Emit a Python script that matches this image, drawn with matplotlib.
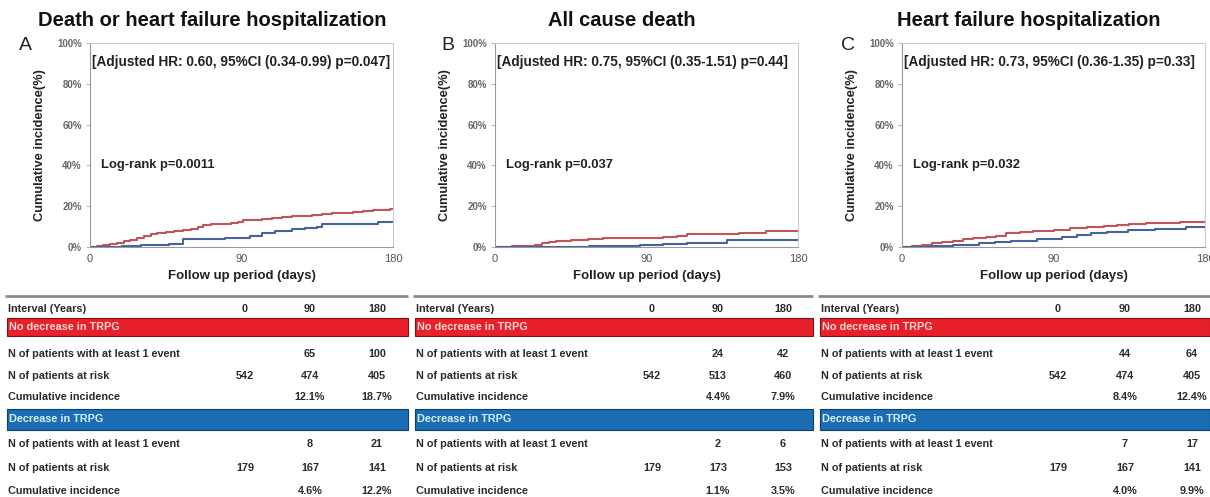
import matplotlib
matplotlib.use("Agg")
import matplotlib.pyplot as plt
from matplotlib.patches import Rectangle

plt.rcParams['font.family'] = ['Liberation Sans', 'DejaVu Sans']

W, H = 1210, 497

# ---------------- data ----------------
panel_letters = ["A", "B", "C"]
panel_titles = ["Death or heart failure hospitalization", "All cause death", "Heart failure hospitalization"]
hr_texts = ["[Adjusted HR: 0.60, 95%CI (0.34-0.99) p=0.047]",
            "[Adjusted HR: 0.75, 95%CI (0.35-1.51) p=0.44]",
            "[Adjusted HR: 0.73, 95%CI (0.36-1.35) p=0.33]"]
logrank_texts = ["Log-rank p=0.0011", "Log-rank p=0.037", "Log-rank p=0.032"]
x_ticks = [0, 90, 180]
y_ticks = [0, 20, 40, 60, 80, 100]
y_tick_labels = ["0%", "20%", "40%", "60%", "80%", "100%"]

# step curves (days, cumulative incidence %)
a_red_t = [0, 4, 8, 12, 16, 20, 24, 28, 32, 36, 40, 45, 50, 55, 60, 64, 67, 72, 78, 84, 88, 91, 96, 102, 108, 114, 120, 126, 132, 138, 144, 150, 156, 162, 168, 174, 178, 180]
a_red_v = [0, 0.6, 1.2, 1.7, 2.2, 2.8, 3.6, 4.5, 5.4, 6.2, 7.0, 7.5, 7.9, 8.3, 8.7, 10.0, 10.8, 11.1, 11.5, 11.9, 12.1, 13.0, 13.3, 13.7, 14.1, 14.6, 15.0, 15.4, 15.8, 16.2, 16.5, 16.8, 17.1, 17.5, 17.9, 18.3, 18.7, 18.7]
a_blue_t = [0, 10, 19, 30, 40, 47, 55, 70, 80, 86, 95, 102, 110, 120, 128, 135, 138, 171, 180]
a_blue_v = [0, 0.2, 0.5, 0.8, 1.0, 1.5, 3.8, 4.0, 4.2, 4.6, 5.5, 7.0, 7.6, 8.7, 9.4, 10.0, 11.4, 12.2, 12.2]

b_red_t = [0, 10, 19, 24, 28, 32, 36, 45, 55, 64, 75, 88, 100, 108, 114, 130, 145, 161, 180]
b_red_v = [0, 0.3, 0.5, 1.2, 1.8, 2.3, 2.8, 3.2, 3.7, 4.2, 4.3, 4.4, 5.0, 5.4, 6.4, 6.6, 7.0, 7.9, 7.9]
b_blue_t = [0, 30, 56, 70, 86, 100, 114, 125, 138, 180]
b_blue_v = [0, 0.1, 0.5, 0.7, 1.1, 1.3, 1.8, 2.2, 3.5, 3.5]

c_red_t = [0, 6, 12, 18, 24, 30, 36, 42, 50, 56, 62, 70, 78, 85, 90, 100, 110, 120, 128, 135, 145, 155, 165, 172, 180]
c_red_v = [0, 0.6, 1.2, 1.8, 2.4, 3.0, 3.7, 4.5, 5.0, 5.6, 6.7, 7.2, 7.6, 8.0, 8.4, 9.2, 9.8, 10.3, 10.8, 11.3, 11.6, 11.9, 12.2, 12.4, 12.4]
c_blue_t = [0, 17, 30, 46, 55, 65, 80, 88, 95, 104, 112, 122, 134, 150, 169, 180]
c_blue_v = [0, 0.5, 1.0, 1.8, 2.3, 2.8, 3.8, 4.0, 5.0, 5.8, 6.7, 7.5, 8.3, 8.7, 9.9, 9.9]

red_curves = [(a_red_t, a_red_v), (b_red_t, b_red_v), (c_red_t, c_red_v)]
blue_curves = [(a_blue_t, a_blue_v), (b_blue_t, b_blue_v), (c_blue_t, c_blue_v)]

# table
interval_header = "Interval (Years)"
interval_cols = ["0", "90", "180"]
group_names = ["No decrease in TRPG", "Decrease in TRPG"]
row_labels = ["N of patients with at least 1 event", "N of patients at risk", "Cumulative incidence"]
tab_a_nodec = [["", "65", "100"], ["542", "474", "405"], ["", "12.1%", "18.7%"]]
tab_a_dec = [["", "8", "21"], ["179", "167", "141"], ["", "4.6%", "12.2%"]]
tab_b_nodec = [["", "24", "42"], ["542", "513", "460"], ["", "4.4%", "7.9%"]]
tab_b_dec = [["", "2", "6"], ["179", "173", "153"], ["", "1.1%", "3.5%"]]
tab_c_nodec = [["", "44", "64"], ["542", "474", "405"], ["", "8.4%", "12.4%"]]
tab_c_dec = [["", "7", "17"], ["179", "167", "141"], ["", "4.0%", "9.9%"]]
tables = [(tab_a_nodec, tab_a_dec), (tab_b_nodec, tab_b_dec), (tab_c_nodec, tab_c_dec)]

# ---------------- layout (pixels) ----------------
ax_left = [90, 495, 902]
ax_w = 303
ax_top, ax_bot = 43, 247
title_cx = [212, 622, 1029]
letter_x = [25, 448, 848]
tab_x0 = [5, 413, 818]
tab_x1 = [408, 813, 1210]
col_x = [[245, 310, 377], [652, 718, 783], [1058, 1125, 1192]]

RED_LINE = "#c0555c"
BLUE_LINE = "#44639f"
RED_BAR = "#e8202a"
BLUE_BAR = "#1c6db4"
TXT = "#2b2b2b"
TFS = 7.8

fig = plt.figure(figsize=(W / 100, H / 100), dpi=100)
fig.patch.set_facecolor("white")

ov = fig.add_axes([0, 0, 1, 1])
ov.set_xlim(0, W)
ov.set_ylim(H, 0)
ov.axis("off")

for i in range(3):
    ax = fig.add_axes([ax_left[i] / W, 1 - ax_bot / H, ax_w / W, (ax_bot - ax_top) / H])
    rt, rv = red_curves[i]
    bt, bv = blue_curves[i]
    ax.step(rt, rv, where="post", color=RED_LINE, lw=1.5)
    ax.step(bt, bv, where="post", color=BLUE_LINE, lw=1.5)
    ax.set_xlim(0, 180)
    ax.set_ylim(0, 100)
    ax.set_xticks(x_ticks)
    ax.set_xticklabels([str(t) for t in x_ticks], fontsize=8, color="#555555")
    ax.set_yticks(y_ticks)
    ax.set_yticklabels(y_tick_labels, fontsize=7, color="#666666", fontweight="bold")
    ax.tick_params(axis="y", length=3, width=0.6, color="#aaaaaa", pad=3)
    ax.tick_params(axis="x", length=0, pad=5)
    for s in ax.spines.values():
        s.set_color("#cccccc")
        s.set_linewidth(0.8)
    ax.spines["left"].set_color("#999999")
    ax.spines["bottom"].set_color("#999999")
    ax.set_xlabel("Follow up period (days)", fontsize=9.5, fontweight="bold", color="#222222", labelpad=4)
    ax.set_ylabel("Cumulative incidence(%)", fontsize=9.3, fontweight="bold", color="#222222", labelpad=8)
    ax.text(0.008, 0.905, hr_texts[i], transform=ax.transAxes, fontsize=9.8, fontweight="bold",
            color="#222222", va="center", ha="left")
    ax.text(0.035, 0.40, logrank_texts[i], transform=ax.transAxes, fontsize=9.4, fontweight="bold",
            color="#222222", va="center", ha="left")

    # titles and letters
    ov.text(title_cx[i], 20, panel_titles[i], fontsize=14.5, fontweight="bold", ha="center", va="center", color="#111111")
    ov.text(letter_x[i], 45, panel_letters[i], fontsize=14, ha="center", va="center", color="#222222")

    # table
    x0, x1 = tab_x0[i], tab_x1[i]
    ov.plot([x0, x1], [296, 296], color="#8c8c8c", lw=2.0, solid_capstyle="butt")
    ov.text(x0 + 3, 309, interval_header, fontsize=TFS, fontweight="bold", color=TXT, va="center")
    for j in range(3):
        ov.text(col_x[i][j], 309, interval_cols[j], fontsize=TFS, fontweight="bold", color=TXT, va="center", ha="center")
    nodec, dec = tables[i]
    for g, (ytop, ybot, bar_c, txt_c, rows, ys) in enumerate([
            (318, 336, RED_BAR, "#ffd6d6", nodec, [354, 376, 397]),
            (409, 430, BLUE_BAR, "#d5f0ff", dec, [444, 468, 491])]):
        ov.add_patch(Rectangle((x0 + 2, ytop), x1 - x0 - 2, ybot - ytop, facecolor=bar_c,
                               edgecolor="#7a1515" if g == 0 else "#0d3d70", lw=0.8))
        ov.text(x0 + 4, (ytop + ybot) / 2, group_names[g], fontsize=TFS, fontweight="bold", color=txt_c, va="center")
        for r in range(3):
            ov.text(x0 + 3, ys[r], row_labels[r], fontsize=TFS, fontweight="bold", color=TXT, va="center")
            for j in range(3):
                ov.text(col_x[i][j], ys[r], rows[r][j], fontsize=TFS, fontweight="bold", color=TXT,
                        va="center", ha="center")

fig.savefig("out.png", dpi=100, facecolor="white")
